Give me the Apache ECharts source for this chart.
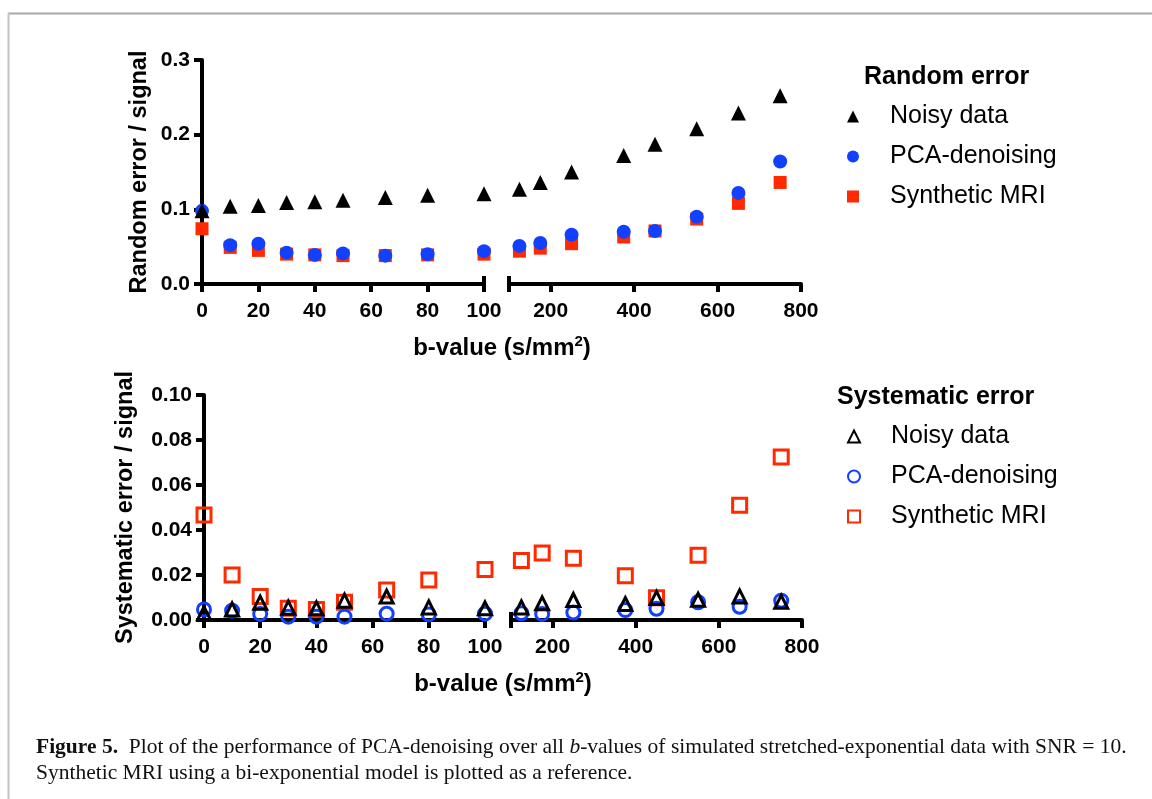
<!DOCTYPE html>
<html>
<head>
    <meta charset="UTF-8">
    <title>Figure 5</title>
    <script src="https://cdn.jsdelivr.net/npm/echarts@6/dist/echarts.min.js"></script>
    <style>
        html, body { margin: 0; padding: 0; background: #fff; }
    </style>
</head>
<body>
<div id="fig" style="width:1152px; height:799px;"></div>
<script>
    // b-values (s/mm2) shared by both panels
    var bValues = [0, 10, 20, 30, 40, 50, 65, 80, 100, 125, 175, 250, 375, 450, 550, 650, 750];

    // random error / signal
    var randNoisy = [0.098, 0.104, 0.105, 0.109, 0.110, 0.112, 0.116, 0.119, 0.121, 0.127, 0.136, 0.150, 0.172, 0.187, 0.208, 0.229, 0.252];
    var randPca   = [0.098, 0.052, 0.054, 0.042, 0.039, 0.041, 0.038, 0.040, 0.044, 0.051, 0.055, 0.066, 0.070, 0.071, 0.090, 0.122, 0.164];
    var randSynth = [0.074, 0.049, 0.045, 0.040, 0.039, 0.038, 0.038, 0.039, 0.040, 0.044, 0.048, 0.054, 0.063, 0.071, 0.087, 0.108, 0.136];

    // systematic error / signal
    var sysNoisy = [0.0030, 0.0047, 0.0077, 0.0055, 0.0052, 0.0086, 0.0104, 0.0056, 0.0052, 0.0056, 0.0074, 0.0089, 0.0071, 0.0098, 0.0090, 0.0105, 0.0081];
    var sysPca   = [0.0047, 0.0041, 0.0027, 0.0015, 0.0015, 0.0015, 0.0028, 0.0025, 0.0028, 0.0030, 0.0027, 0.0033, 0.0044, 0.0050, 0.0079, 0.0059, 0.0086];
    var sysSynth = [0.0467, 0.0200, 0.0104, 0.0052, 0.0047, 0.0079, 0.0133, 0.0178, 0.0225, 0.0265, 0.0298, 0.0274, 0.0197, 0.0099, 0.0288, 0.0510, 0.0724];

    var seriesNames = ['Noisy data', 'PCA-denoising', 'Synthetic MRI'];
    var leftTicks = [0, 20, 40, 60, 80, 100];
    var rightTicks = [200, 400, 600, 800];

    var BLACK = '#000000', BLUE = '#1240ff', RED = '#ff2a00';
    var SANS = 'Liberation Sans, Arial, Helvetica, sans-serif';
    var SERIF = 'Liberation Serif, Times New Roman, serif';

    function pts(vals, lo, hi) {
        var out = [];
        for (var i = 0; i < bValues.length; i++) {
            if (bValues[i] >= lo && bValues[i] <= hi) out.push([bValues[i], vals[i]]);
        }
        return out;
    }

    var chart = echarts.init(document.getElementById('fig'), null, {renderer: 'canvas'});

    function xMain(grid, min, max, ticks, labels) {
        return {
            type: 'value', gridIndex: grid, min: min, max: max, position: 'bottom',
            splitLine: {show: false},
            axisLine: {show: true, onZero: false, lineStyle: {color: BLACK, width: 4}},
            axisTick: {show: true, length: 8, customValues: ticks, lineStyle: {color: BLACK, width: 4}},
            axisLabel: {show: true, customValues: labels, margin: 17, color: BLACK,
                fontFamily: SANS, fontWeight: 'bold', fontSize: 21}
        };
    }
    // inside tick used as the upper half of the axis-break mark
    function xBreak(grid, min, max, at) {
        return {
            type: 'value', gridIndex: grid, min: min, max: max, position: 'bottom',
            splitLine: {show: false},
            axisLine: {show: false, onZero: false},
            axisTick: {show: true, inside: true, length: 8, customValues: [at], lineStyle: {color: BLACK, width: 4}},
            axisLabel: {show: false}
        };
    }
    function yAxis(grid, max, step, digits, show, name, gap) {
        return {
            type: 'value', gridIndex: grid, min: 0, max: max, interval: step, show: show,
            name: name, nameLocation: 'middle', nameGap: gap,
            nameTextStyle: {color: BLACK, fontFamily: SANS, fontWeight: 'bold', fontSize: 23.5},
            splitLine: {show: false},
            axisLine: {show: true, lineStyle: {color: BLACK, width: 4}},
            axisTick: {show: true, length: 8, lineStyle: {color: BLACK, width: 4}},
            axisLabel: {margin: 12, color: BLACK, fontFamily: SANS, fontWeight: 'bold', fontSize: 21,
                formatter: function (v) { return v.toFixed(digits); }}
        };
    }

    // filled markers (random error) and open markers (systematic error)
    function filled(name, sym, size, color, data, xi, yi) {
        return {name: name, type: 'scatter', xAxisIndex: xi, yAxisIndex: yi, symbol: sym, symbolSize: size,
            itemStyle: {color: color, opacity: 1}, data: data, silent: true};
    }
    function open(name, sym, size, color, data, xi, yi) {
        return {name: name, type: 'scatter', xAxisIndex: xi, yAxisIndex: yi, symbol: sym, symbolSize: size,
            itemStyle: {color: 'rgba(255,255,255,0)', borderColor: color, borderWidth: 3, opacity: 1}, data: data, silent: true};
    }

    var series = [];
    // top panel: grid 0 (0-100) xAxis 0, grid 1 (100-800) xAxis 2
    [[0, 0, 0, 100], [2, 1, 101, 800]].forEach(function (g) {
        series.push(filled('Synthetic MRI', 'rect', 13, RED, pts(randSynth, g[2], g[3]), g[0], g[1]));
        series.push(filled('PCA-denoising', 'circle', 14, BLUE, pts(randPca, g[2], g[3]), g[0], g[1]));
        series.push(filled('Noisy data', 'triangle', 15, BLACK, pts(randNoisy, g[2], g[3]), g[0], g[1]));
    });
    // bottom panel: grid 2 xAxis 4, grid 3 xAxis 5
    [[4, 2, 0, 100], [5, 3, 101, 800]].forEach(function (g) {
        series.push(open('sys:Synthetic MRI', 'rect', 14, RED, pts(sysSynth, g[2], g[3]), g[0], g[1]));
        series.push(open('sys:PCA-denoising', 'circle', 13, BLUE, pts(sysPca, g[2], g[3]), g[0], g[1]));
        series.push(open('sys:Noisy data', 'triangle', 13, BLACK, pts(sysNoisy, g[2], g[3]), g[0], g[1]));
    });

    function legend(top, prefix) {
        return {
            orient: 'vertical', left: 847, top: top, padding: 0, itemWidth: 12, itemHeight: 12, itemGap: 15,
            selectedMode: false, symbolKeepAspect: true,
            data: seriesNames.map(function (n) { return prefix + n; }),
            formatter: function (n) { return '{g| }{t|' + n.replace(/^sys:/, '') + '}'; },
            textStyle: {
                color: BLACK, fontFamily: SANS, fontSize: 25, lineHeight: 25,
                rich: {
                    g: {width: 26, fontSize: 25, lineHeight: 25},
                    t: {color: BLACK, fontFamily: SANS, fontSize: 25, lineHeight: 25}
                }
            }
        };
    }

    var axisTitle = {
        text: '{m|b-value (s/mm}{s|2}{m|)}',
        rich: {
            m: {fontFamily: SANS, fontWeight: 'bold', fontSize: 24, color: BLACK, lineHeight: 26, verticalAlign: 'bottom'},
            s: {fontFamily: SANS, fontWeight: 'bold', fontSize: 15, color: BLACK, lineHeight: 26, verticalAlign: 'top'}
        },
        textAlign: 'center', textVerticalAlign: 'middle'
    };

    var captionFont = {fontFamily: SERIF, fontSize: 21.5, color: '#111', lineHeight: 26};

    option = {
        backgroundColor: '#ffffff',
        animation: false,
        grid: [
            {left: 202, top: 60, width: 282, height: 224},
            {left: 509, top: 60, width: 292, height: 224},
            {left: 204, top: 395, width: 281, height: 225},
            {left: 511, top: 395, width: 291, height: 225}
        ],
        xAxis: [
            xMain(0, 0, 100, leftTicks, leftTicks),
            xBreak(0, 0, 100, 100),
            xMain(1, 100, 800, [100].concat(rightTicks), rightTicks),
            xBreak(1, 100, 800, 100),
            xMain(2, 0, 100, leftTicks, leftTicks),
            xMain(3, 100, 800, [100].concat(rightTicks), rightTicks),
            xBreak(3, 100, 800, 100)
        ],
        yAxis: [
            yAxis(0, 0.3, 0.1, 1, true, 'Random error / signal', 50),
            yAxis(1, 0.3, 0.1, 1, false, '', 0),
            yAxis(2, 0.1, 0.02, 2, true, 'Systematic error / signal', 66),
            yAxis(3, 0.1, 0.02, 2, false, '', 0)
        ],
        legend: [legend(104, ''), legend(424, 'sys:')],
        title: [
            {text: 'Random error', left: 864, top: 65, padding: 0,
                textStyle: {color: BLACK, fontFamily: SANS, fontWeight: 'bold', fontSize: 25}},
            {text: 'Systematic error', left: 837, top: 385, padding: 0,
                textStyle: {color: BLACK, fontFamily: SANS, fontWeight: 'bold', fontSize: 25}},
            {
                text: '{b|Figure 5.}{r|  Plot of the performance of PCA-denoising over all }{i|b}{r|-values of simulated stretched-exponential data with SNR = 10.}\n{r|Synthetic MRI using a bi-exponential model is plotted as a reference.}',
                left: 36, top: 734, padding: 0,
                textStyle: {
                    fontWeight: 'normal',
                    rich: {
                        b: echarts.util.extend({fontWeight: 'bold'}, captionFont),
                        r: echarts.util.extend({fontWeight: 'normal'}, captionFont),
                        i: echarts.util.extend({fontWeight: 'normal', fontStyle: 'italic'}, captionFont)
                    }
                }
            }
        ],
        graphic: [
            {type: 'line', shape: {x1: 8, y1: 13.5, x2: 1152, y2: 13.5}, style: {stroke: '#a8a8a8', lineWidth: 2}, silent: true},
            {type: 'line', shape: {x1: 8.5, y1: 13, x2: 8.5, y2: 799}, style: {stroke: '#c4c4c4', lineWidth: 2}, silent: true},
            {type: 'text', x: 502, y: 347, style: axisTitle, silent: true},
            {type: 'text', x: 503, y: 683, style: axisTitle, silent: true}
        ],
        series: series
    };
    chart.setOption(option);
</script>
</body>
</html>
